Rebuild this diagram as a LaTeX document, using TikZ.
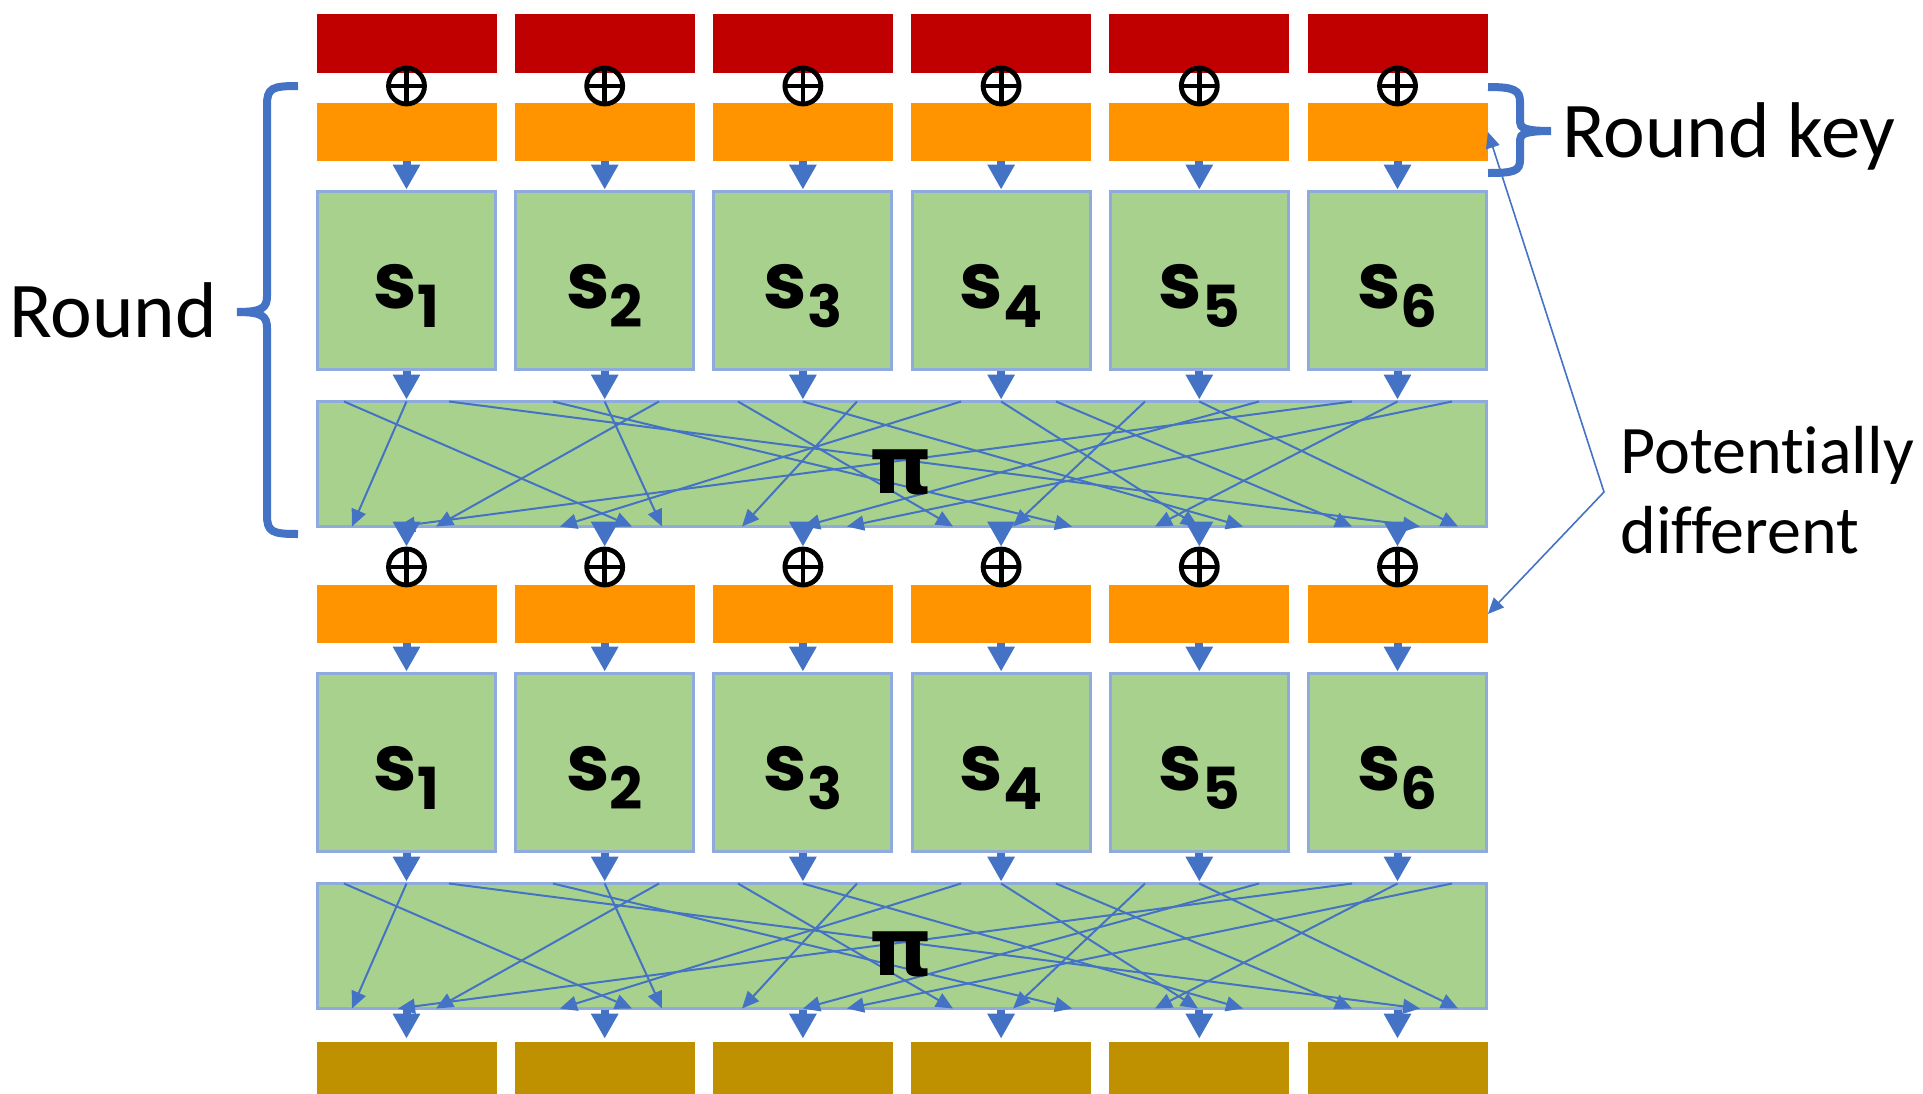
\documentclass[tikz,border=0pt]{standalone}
\usepackage{fontspec}
\setmainfont{Carlito}[Ligatures={NoCommon}]
\newfontfamily\sfont{Poppins}
\newfontfamily\pifont{DejaVu Sans}
\usetikzlibrary{arrows.meta,calc}
\definecolor{kred}{HTML}{C00000}
\definecolor{korange}{HTML}{FF9400}
\definecolor{sgreen}{HTML}{A9D18E}
\definecolor{sborder}{HTML}{8FAADC}
\definecolor{abl}{HTML}{4472C4}
\definecolor{kgold}{HTML}{BF9000}
\newcommand\slab[1]{{\sfont\bfseries\fontsize{39pt}{39pt}\selectfont s\raisebox{-9.5pt}{\fontsize{29pt}{29pt}\selectfont #1}}}
\begin{document}
\begin{tikzpicture}[x=0.5pt,y=-0.5pt,
  redbox/.style={fill=kred,draw=none,minimum width=90pt,minimum height=29.5pt,inner sep=0pt},
  keybox/.style={fill=korange,draw=none,minimum width=90pt,minimum height=29pt,inner sep=0pt},
  outbox/.style={fill=kgold,draw=none,minimum width=90pt,minimum height=26pt,inner sep=0pt},
  sboxst/.style={fill=sgreen,draw=sborder,line width=1.5pt,minimum width=89pt,minimum height=89pt,inner sep=0pt},
  pibox/.style={fill=sgreen,draw=sborder,line width=1.5pt,minimum width=584.5pt,minimum height=62.5pt,inner sep=0pt},
  xorc/.style={circle,draw=black,line width=2.4pt,minimum size=18pt,inner sep=0pt,
    path picture={\draw[line width=2.4pt] (path picture bounding box.north) -- (path picture bounding box.south)
      (path picture bounding box.west) -- (path picture bounding box.east);}},
  fatarrow/.style={draw=abl,line width=4pt,-{Triangle[length=12.5pt,width=13pt,fill=abl]}},
  permline/.style={draw=abl,line width=1pt,-{Triangle[length=8.5pt,width=7.5pt,fill=abl]}},
  bracest/.style={draw=abl,line width=4pt},
  slabel/.style={inner sep=0pt,anchor=base},
  pilabel/.style={inner sep=0pt,font=\pifont\bfseries\fontsize{40pt}{40pt}\selectfont},
  biglabel/.style={inner sep=0pt,anchor=base west,font=\fontsize{39.5pt}{39.5pt}\selectfont},
  sidelabel/.style={inner sep=0pt,anchor=base west,font=\fontsize{34pt}{34pt}\selectfont}
]
\useasboundingbox (0,0) rectangle (1923,1093);

% columns
\foreach \i in {1,...,6}{
  \pgfmathsetmacro\cx{406.5+198.2*(\i-1)}
  \node[redbox] (red\i) at (\cx,43.5) {};
  \node[keybox] (ka\i) at (\cx,132) {};
  \node[sboxst] (sa\i) at (\cx,280) {};
  \node[keybox] (kb\i) at (\cx,614) {};
  \node[sboxst] (sb\i) at (\cx,762) {};
  \node[outbox] (out\i) at (\cx,1068) {};
  \node[xorc] (xa\i) at (\cx,86) {};
  \node[xorc] (xb\i) at (\cx,567) {};
}
\node[pibox] (pia) at (901.5,463.5) {};
\node[pibox] (pib) at (901.5,945.5) {};

% S labels
\foreach \i in {1,...,6}{
  \node[slabel] (la\i) at ($(sa\i.center)+(0,28)$) {\slab{\i}};
  \node[slabel] (lb\i) at ($(sb\i.center)+(0,28)$) {\slab{\i}};
}

% thick arrows
\foreach \i in {1,...,6}{
  \draw[fatarrow] (ka\i) -- (sa\i);
  \draw[fatarrow] (sa\i) -- (sa\i |- pia.north);
  \draw[fatarrow] (pia.south -| xb\i) -- (xb\i);
  \draw[fatarrow] (kb\i) -- (sb\i);
  \draw[fatarrow] (sb\i) -- (sb\i |- pib.north);
  \draw[fatarrow, shorten >=1.5pt] (pib.south -| out\i) -- (out\i);
}

% permutation lines
\foreach \p in {pia,pib}{
  \foreach \a/\b in {344/632, 406.5/352, 449/1420, 553/1072, 604.7/662, 659/436, 738/953,
                     802.9/1243, 857/742, 961/560, 1001.1/1198, 1056/1352, 1145/1013,
                     1199.3/1458, 1259/803, 1352/398, 1397.5/1155, 1452/847}{
    \draw[permline] ($(\p.north)+(\a-901.5,2)$) -- ($(\p.south)+(\b-901.5,-1)$);
  }
}
\node[pilabel] (pla) at ($(pia.center)+(0,9)$) {π};
\node[pilabel] (plb) at ($(pib.center)+(0,9)$) {π};

% braces
\draw[bracest] (298,86) .. controls (272,86) and (267,88) .. (267,105) -- (267,296)
  .. controls (267,308) and (262,312) .. (237,312)
  .. controls (262,312) and (267,316) .. (267,328) -- (267,515)
  .. controls (267,532) and (272,534) .. (298,534);
\draw[bracest] (1488,87) .. controls (1514,87) and (1520,90) .. (1520,102) -- (1520,122)
  .. controls (1520,128) and (1525,131) .. (1551,131)
  .. controls (1525,131) and (1520,134) .. (1520,140) -- (1520,160)
  .. controls (1520,171) and (1514,173) .. (1488,173);

% labels
\node[biglabel] (round) at (9,337) {Round};
\node[biglabel] (rkey) at (1562,157) {Round key};
\node[sidelabel] (pot) at (1620,473) {Potentially};
\node[sidelabel] (diff) at (1620,553) {different};

% potentially different connector
\coordinate (pv) at (1604,492);
\draw[draw=abl,line width=0.8pt,{Triangle[length=8pt,width=7pt,fill=abl]}-{Triangle[length=8pt,width=7pt,fill=abl]}]
  (ka6.east) -- (pv) -- (kb6.east);
\end{tikzpicture}
\end{document}
